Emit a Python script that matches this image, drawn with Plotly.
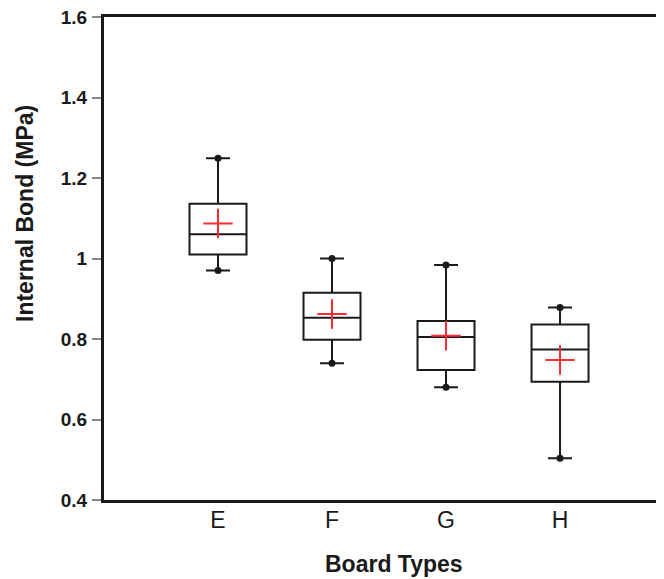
import plotly.graph_objects as go

categories = ["E", "F", "G", "H"]
minimum = [0.97, 0.74, 0.68, 0.504]
q1 = [1.01, 0.798, 0.723, 0.694]
median = [1.06, 0.853, 0.805, 0.774]
q3 = [1.136, 0.915, 0.845, 0.836]
maximum = [1.249, 1.00, 0.984, 0.878]
means = [1.087, 0.862, 0.808, 0.748]

y_ticks = [0.4, 0.6, 0.8, 1.0, 1.2, 1.4, 1.6]
y_ticktext = ["0.4", "0.6", "0.8", "1", "1.2", "1.4", "1.6"]

FONT = "Liberation Sans, Arial, sans-serif"
INK = "#1a1a1a"

fig = go.Figure()
fig.add_trace(go.Box(
    x=categories, q1=q1, median=median, q3=q3,
    lowerfence=minimum, upperfence=maximum,
    width=0.5, whiskerwidth=0.42, boxpoints=False,
    fillcolor="white", line=dict(color=INK, width=2),
    showlegend=False,
))
fig.add_trace(go.Scatter(
    x=categories + categories, y=minimum + maximum, mode="markers",
    marker=dict(symbol="circle", size=7, color=INK),
    showlegend=False,
))
fig.add_trace(go.Scatter(
    x=categories, y=means, mode="markers",
    marker=dict(symbol="cross-thin", size=21, line=dict(color="#ff2a33", width=2)),
    showlegend=False,
))

# page body has an 8px default margin; figure is sized to fill the rest
fig.update_layout(
    width=656, height=571,
    margin=dict(l=96, r=0, t=9, b=79),
    paper_bgcolor="white", plot_bgcolor="white",
    font=dict(family=FONT, color=INK),
    xaxis=dict(
        type="category", categoryarray=categories,
        range=[-1, 3.912],
        showline=True, linewidth=3, linecolor=INK, mirror=True,
        showgrid=False, zeroline=False, ticks="",
        tickfont=dict(family=FONT, size=23, color=INK),
        ticklabelstandoff=-3,
    ),
    yaxis=dict(
        range=[0.4, 1.6], tickvals=y_ticks, ticktext=y_ticktext,
        showline=True, linewidth=3, linecolor=INK, mirror=False,
        showgrid=False, zeroline=False,
        ticks="outside", ticklen=9, tickwidth=1.5, tickcolor="#888",
        tickfont=dict(family=FONT, size=19, color=INK, weight="bold"),
        ticklabelstandoff=1, ticklabeloverflow="allow",
    ),
    annotations=[
        dict(text="<b>Internal Bond (MPa)</b>", xref="paper", yref="paper",
             x=0, y=(500 - 214) / 483, xshift=-79, xanchor="center", yanchor="middle",
             textangle=-90, showarrow=False, font=dict(family=FONT, size=23, color=INK)),
        dict(text="<b>Board Types</b>", xref="paper", yref="paper",
             x=(394 - 104) / 560, y=0, yshift=-64, xanchor="center", yanchor="middle",
             showarrow=False, font=dict(family=FONT, size=23, color=INK)),
    ],
)

fig.write_html("out.html")
